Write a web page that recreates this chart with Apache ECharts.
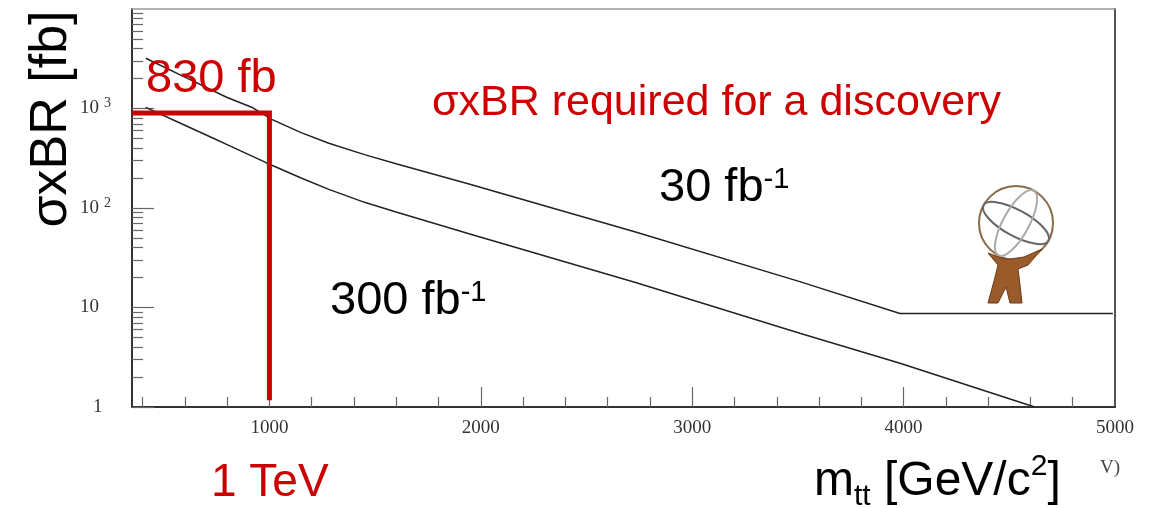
<!DOCTYPE html>
<html><head><meta charset="utf-8">
<script src="https://cdn.jsdelivr.net/npm/echarts@6/dist/echarts.min.js"></script>
<style>html,body{margin:0;padding:0;background:#fff}#c{width:1157px;height:508px}</style>
</head><body><div id="c"></div>
<script>
// ---- data ----
const lum30 = [[415,3200],[600,2070],[800,1290],[916,1030],[1011,777],[1150,572],[1281,448],[1450,344],[1599,279],[1944,174],[2736,57],[3509,18.2],[3983,8.7],[4990,8.7]];
const lum300 = [[415,1026],[600,679],[727,511],[800,433],[982,287],[1150,200],[1281,154],[1450,114],[1599,91],[1944,55],[2736,17.7],[3509,5.5],[3983,2.75],[4620,1.0]];
const requiredMass = 1000;      // GeV
const requiredXsec = 900;       // fb (labelled 830 fb)
const requiredFloor = 1.17;
const xMin = 350, xMax = 5000;
const yMin = 1, yMax = 10000;
const xMajorTicks = [1000,2000,3000,4000,5000];
const xMinorTicks = [400,600,800,1200,1400,1600,1800,2200,2400,2600,2800,3200,3400,3600,3800,4200,4400,4600,4800];
const yMajorTicks = [1,10,100,1000];
const yTickLabels = {1:'{one|1}',10:'10',100:'10{sup|2}',1000:'10{sup|3}'};
const yMinorTicks = [];
[1,10,100,1000].forEach(d=>{for(let k=2;k<=9;k++) yMinorTicks.push(d*k);});

const chart = echarts.init(document.getElementById('c'));
const serif = 'Liberation Serif';
const red = '#cc0000';
const baseX = {type:'value',min:xMin,max:xMax,gridIndex:0,splitLine:{show:false}};
const baseY = {type:'log',logBase:10,min:yMin,max:yMax,gridIndex:0,splitLine:{show:false}};

chart.setOption({
  animation:false,
  backgroundColor:'#fff',
  grid:{left:132,right:42,top:9,bottom:101,containLabel:false},
  xAxis:[
    Object.assign({},baseX,{position:'bottom',
      axisLine:{show:true,lineStyle:{color:'#333',width:2}},
      axisTick:{show:true,inside:true,length:10,customValues:xMinorTicks,lineStyle:{color:'#666',width:1.2}},
      axisLabel:{show:true,customValues:xMajorTicks,margin:12,fontFamily:serif,fontSize:19,color:'#333',
        formatter:v=>String(v)}}),
    Object.assign({},baseX,{position:'bottom',
      axisLine:{show:false},
      axisTick:{show:true,inside:true,length:20,customValues:xMajorTicks.slice(0,4),lineStyle:{color:'#666',width:1.2}},
      axisLabel:{show:false}}),
    Object.assign({},baseX,{position:'top',
      axisLine:{show:true,lineStyle:{color:'#999',width:1.5}},
      axisTick:{show:false},axisLabel:{show:false}})
  ],
  yAxis:[
    Object.assign({},baseY,{position:'left',
      axisLine:{show:true,lineStyle:{color:'#333',width:2}},
      axisTick:{show:true,inside:true,length:11,customValues:yMinorTicks,lineStyle:{color:'#666',width:1.2}},
      axisLabel:{show:true,customValues:yMajorTicks,margin:52,align:'left',fontFamily:serif,fontSize:19,color:'#333',
        formatter:v=>yTickLabels[Math.round(v)]||'',
        rich:{sup:{fontFamily:serif,fontSize:14,color:'#333',verticalAlign:'top',padding:[0,0,10,5]},
              one:{fontFamily:serif,fontSize:19,color:'#333',padding:[0,0,0,13]}}}}),
    Object.assign({},baseY,{position:'left',
      axisLine:{show:false},
      axisTick:{show:true,inside:true,length:22,customValues:yMajorTicks,lineStyle:{color:'#666',width:1.2}},
      axisLabel:{show:false}}),
    Object.assign({},baseY,{position:'right',
      axisLine:{show:true,lineStyle:{color:'#555',width:2}},
      axisTick:{show:false},axisLabel:{show:false}})
  ],
  series:[
    {type:'line',name:'30 fb-1',data:lum30,showSymbol:false,xAxisIndex:0,yAxisIndex:0,
      lineStyle:{color:'#222',width:1.5}},
    {type:'line',name:'300 fb-1',data:lum300,showSymbol:false,xAxisIndex:0,yAxisIndex:0,
      lineStyle:{color:'#222',width:1.5}},
    {type:'line',name:'required',data:[[xMin,requiredXsec],[requiredMass,requiredXsec],[requiredMass,requiredFloor]],
      showSymbol:false,xAxisIndex:0,yAxisIndex:0,z:5,lineStyle:{color:red,width:5,join:'miter'}}
  ],
  graphic:[
    {type:'text',left:146,top:56,z:10,style:{text:'830 fb',font:'47px "Liberation Sans"',fill:red}},
    {type:'text',left:432,top:82,z:10,style:{text:'σxBR required for a discovery',font:'43px "Liberation Sans"',fill:red}},
    {type:'text',left:659,top:165,z:10,style:{text:'30 fb{sup|-1}',font:'47px "Liberation Sans"',fill:'#000',
      rich:{sup:{font:'29px "Liberation Sans"',fill:'#000',verticalAlign:'top',padding:[0,0,18,0]}}}},
    {type:'text',left:330,top:278,z:10,style:{text:'300 fb{sup|-1}',font:'47px "Liberation Sans"',fill:'#000',
      rich:{sup:{font:'29px "Liberation Sans"',fill:'#000',verticalAlign:'top',padding:[0,0,18,0]}}}},
    {type:'text',left:211,top:460,z:10,style:{text:'1 TeV',font:'46px "Liberation Sans"',fill:red}},
    {type:'text',left:814,top:452,z:10,style:{text:'m{sub|tt} [GeV/c{sup|2}]',font:'48px "Liberation Sans"',fill:'#000',
      rich:{sub:{font:'30px "Liberation Sans"',fill:'#000',verticalAlign:'bottom',padding:[30,0,0,0]},
            sup:{font:'30px "Liberation Sans"',fill:'#000',verticalAlign:'top',padding:[0,0,14,0]}}}},
    {type:'text',left:1100,top:459,z:10,style:{text:'V)',font:'19px "Liberation Serif"',fill:'#444'}},
    {type:'text',x:52,y:119,rotation:Math.PI/2,z:10,style:{text:'σxBR [fb]',font:'52px "Liberation Sans"',fill:'#000',align:'center',verticalAlign:'middle'}},
    {type:'group',x:1016,y:223,z:8,children:[
      {type:'circle',shape:{cx:0,cy:0,r:37},style:{fill:'none',stroke:'#8a6a4a',lineWidth:2}},
      {type:'ellipse',shape:{cx:0,cy:0,rx:37,ry:13},rotation:-0.5,style:{fill:'none',stroke:'#666',lineWidth:2}},
      {type:'ellipse',shape:{cx:0,cy:0,rx:13,ry:37},rotation:-0.5,style:{fill:'none',stroke:'#aaa',lineWidth:2}},
      {type:'polygon',shape:{points:[[-28,30],[-12,36],[-6,36],[8,34],[26,26],[12,42],[2,46],[4,62],[6,80],[-6,80],[-10,64],[-18,80],[-28,80],[-22,58],[-18,42]]},
        style:{fill:'#9a5a2a',stroke:'#6a3a1a',lineWidth:1}}
    ]}
  ]
});
</script></body></html>
